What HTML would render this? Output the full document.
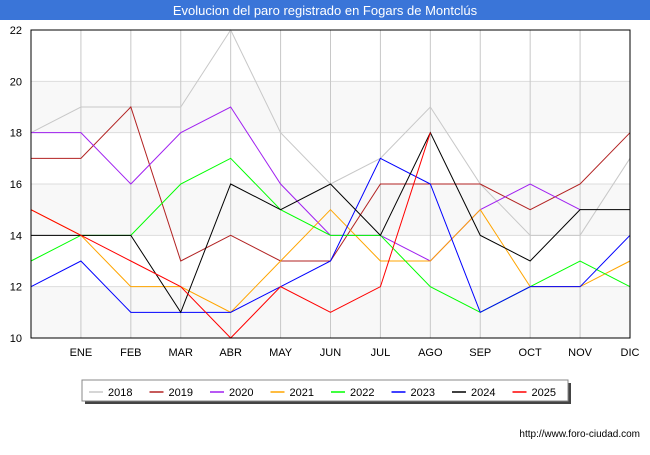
<!DOCTYPE html>
<html><head><meta charset="utf-8"><style>
body{margin:0;width:650px;height:450px;background:#fff;font-family:"Liberation Sans","DejaVu Sans",sans-serif;overflow:hidden}
</style></head><body>
<svg width="650" height="450" id="c">
<rect x="0" y="0" width="650" height="20" fill="#3a75d8"/>
<text x="325" y="15" text-anchor="middle" fill="#fff" font-size="13">Evolucion del paro registrado en Fogars de Montclús</text>
<g id="plot"></g>
<text x="640" y="437" text-anchor="end" font-size="10" fill="#000">http://www.foro-ciudad.com</text>
</svg>
<script>
const months=["","ENE","FEB","MAR","ABR","MAY","JUN","JUL","AGO","SEP","OCT","NOV","DIC"];
const yTicks=[10,12,14,16,18,20,22];
const years=["2018","2019","2020","2021","2022","2023","2024","2025"];
const colors=["#c8c8c8","#b22222","#a020f0","#ffa500","#00ff00","#0000ff","#000000","#ff0000"];
const s2018=[18,19,19,19,22,18,16,17,19,16,14,14,17];
const s2019=[17,17,19,13,14,13,13,16,16,16,15,16,18];
const s2020=[18,18,16,18,19,16,14,14,13,15,16,15];
const s2021=[15,14,12,12,11,13,15,13,13,15,12,12,13];
const s2022=[13,14,14,16,17,15,14,14,12,11,12,13,12];
const s2023=[12,13,11,11,11,12,13,17,16,11,12,12,14];
const s2024=[14,14,14,11,16,15,16,14,18,14,13,15,15];
const s2025=[15,14,13,12,10,12,11,12,18];
const series=[s2018,s2019,s2020,s2021,s2022,s2023,s2024,s2025];
const NS="http://www.w3.org/2000/svg";
const L=31,R=630,T=30,B=338,ymin=10,ymax=22;
const xs=i=>L+(R-L)*i/(months.length-1);
const ys=v=>B-(B-T)*(v-ymin)/(ymax-ymin);
const g=document.getElementById('plot');
function mk(t,a){const e=document.createElementNS(NS,t);for(const k in a)e.setAttribute(k,a[k]);g.appendChild(e);return e;}
for(let i=0;i<yTicks.length-1;i++){
 const e=mk('rect',{x:L,y:ys(yTicks[i+1]),width:R-L,height:ys(yTicks[i])-ys(yTicks[i+1]),fill:(i%2==0)?'#f8f8f8':'#ffffff'});
 
 
}
yTicks.forEach(v=>{
 const l=mk('line',{x1:L,x2:R,y1:ys(v),y2:ys(v),stroke:'#dddddd'});
 
 
 const t=mk('text',{x:L-9,y:ys(v)+4,'text-anchor':'end','font-size':11});
 t.textContent=v;
 
 
});
months.forEach((m,i)=>{
 const l=mk('line',{x1:xs(i),x2:xs(i),y1:T,y2:B,stroke:'#c8c8c8'});
 
 
 if(m){const t=mk('text',{x:xs(i),y:356,'text-anchor':'middle','font-size':11});
 t.textContent=m;
 
 }
});
series.forEach((s,k)=>{
 const p=mk('polyline',{points:s.map((v,i)=>xs(i)+','+ys(v)).join(' '),fill:'none',stroke:colors[k],'stroke-width':1});
 
 
});
const fr=mk('rect',{x:L,y:T,width:R-L,height:B-T,fill:'none',stroke:'#000'});


const sh=mk('rect',{x:85,y:383,width:486,height:21,fill:'#444'});


const lb=mk('rect',{x:82,y:380,width:486,height:21,fill:'#fff',stroke:'#888'});


years.forEach((y,k)=>{
 const x0=89+k*60.5;
 const l=mk('line',{x1:x0,x2:x0+14,y1:392,y2:392,stroke:colors[k],'stroke-width':1.5});
 
 
 const t=mk('text',{x:x0+19,y:396,'font-size':11});
 t.textContent=y;
 
 
});
</script>
</body></html>
